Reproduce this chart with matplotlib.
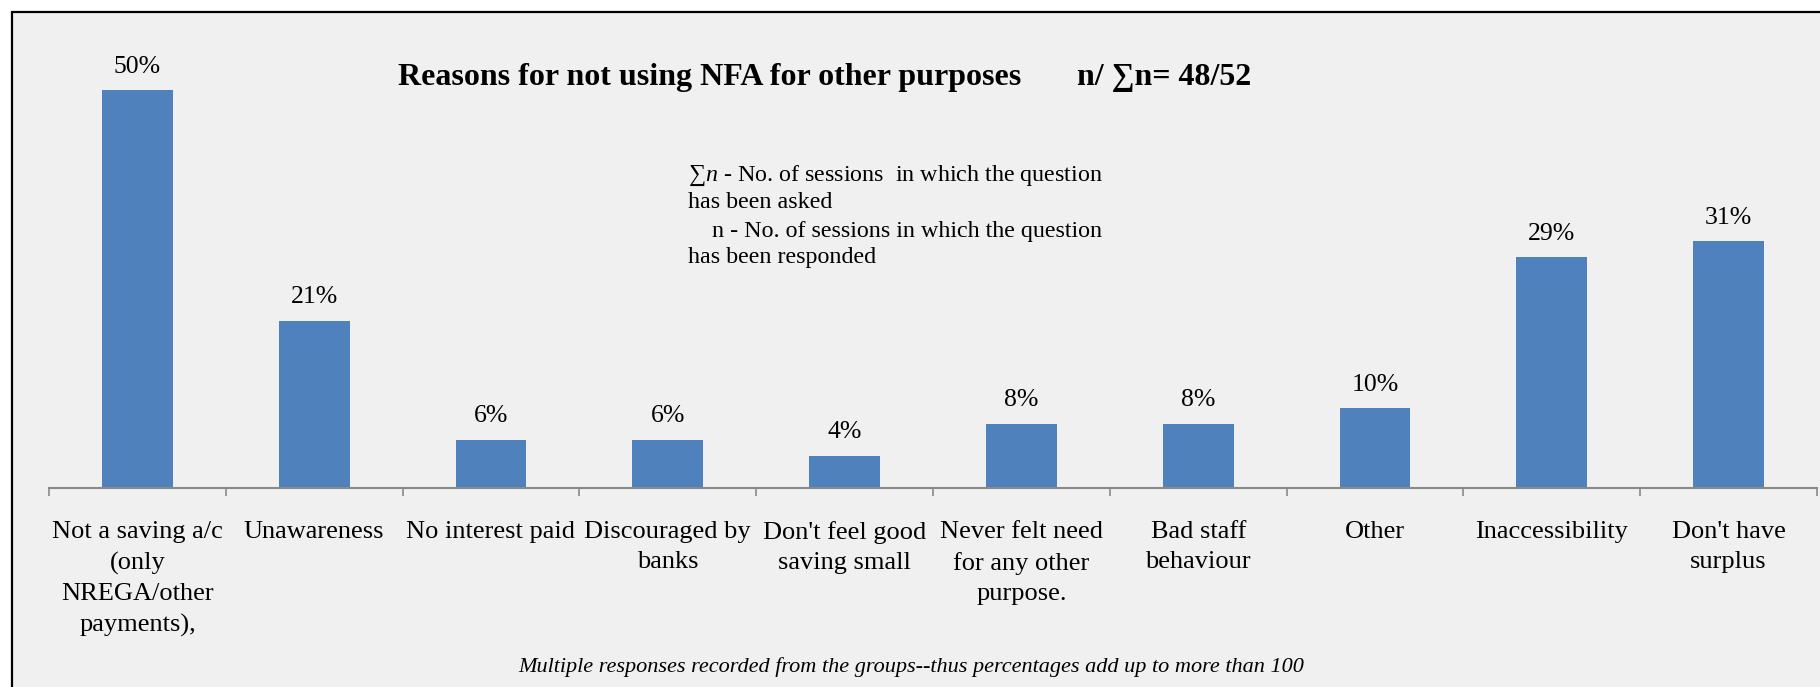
import matplotlib
matplotlib.use("Agg")
import matplotlib.pyplot as plt
from matplotlib.patches import Rectangle

categories = ["Not a saving a/c\n(only\nNREGA/other\npayments),", "Unawareness", "No interest paid",
              "Discouraged by\nbanks", "Don't feel good\nsaving small", "Never felt need\nfor any other\npurpose.",
              "Bad staff\nbehaviour", "Other", "Inaccessibility", "Don't have\nsurplus"]
values = [50, 21, 6, 6, 4, 8, 8, 10, 29, 31]
value_labels = ["50%", "21%", "6%", "6%", "4%", "8%", "8%", "10%", "29%", "31%"]

plt.rcParams['font.family'] = ['Liberation Serif', 'DejaVu Serif']
plt.rcParams['mathtext.fontset'] = 'custom'
plt.rcParams['mathtext.it'] = 'Liberation Serif:italic'
plt.rcParams['mathtext.rm'] = 'Liberation Serif'

W, H = 1820, 687
fig = plt.figure(figsize=(W / 100, H / 100), dpi=100, facecolor='white')

# outer chart frame
frame = Rectangle((12 / W, -0.05), 1.1, 1 - 12 / H + 0.05, transform=fig.transFigure,
                  facecolor='#F0F0F0', edgecolor='black', linewidth=1.6, zorder=-10)
fig.patches.append(frame)

ax_left, ax_right = 49 / W, 1817 / W
ax_bottom = (H - 487.5) / H
ax_height = 476.4 / H
ax = fig.add_axes([ax_left, ax_bottom, ax_right - ax_left, ax_height])
ax.set_facecolor('none')
ax.set_zorder(5)

x = list(range(len(values)))
bars = ax.bar(x, values, width=0.4, color='#4F81BD', zorder=2)
ax.bar_label(bars, labels=value_labels, padding=9, fontsize=18.5, color='black')

ax.set_xlim(-0.5, len(values) - 0.5)
ax.set_ylim(0, 60)
for s in ['left', 'right', 'top']:
    ax.spines[s].set_visible(False)
ax.spines['bottom'].set_color('#898989')
ax.spines['bottom'].set_linewidth(1.5)
ax.set_yticks([])
ax.set_xticks(x)
ax.set_xticklabels(categories, fontsize=19, linespacing=1.5, multialignment='center')
ax.tick_params(axis='x', which='major', length=0, pad=24)
ax.set_xticks([i - 0.5 for i in range(len(values) + 1)], minor=True)
ax.tick_params(axis='x', which='minor', length=6, width=1.2, color='#898989', direction='out')

# title
fig.text(398 / W, 1 - 77 / H, "Reasons for not using NFA for other purposes", fontsize=23,
         fontweight='bold', ha='left', va='center')
fig.text(1077 / W, 1 - 77 / H, "n/ \u2211n= 48/52", fontsize=23, fontweight='bold', ha='left', va='center')

# annotation box text
note_lines = ["\u2211$n$ - No. of sessions  in which the question", "has been asked",
              "    n - No. of sessions in which the question", "has been responded"]
ys = [176, 203, 231, 258]
for line, yy in zip(note_lines, ys):
    fig.text(688 / W, 1 - yy / H, line, fontsize=17.3, ha='left', va='center')

# footnote
fig.text(911 / W, 1 - 667 / H,
         "Multiple responses recorded from the groups--thus percentages add up to more than 100",
         fontsize=16, fontstyle='italic', ha='center', va='center')

fig.savefig("out.png", dpi=100, facecolor='white')
